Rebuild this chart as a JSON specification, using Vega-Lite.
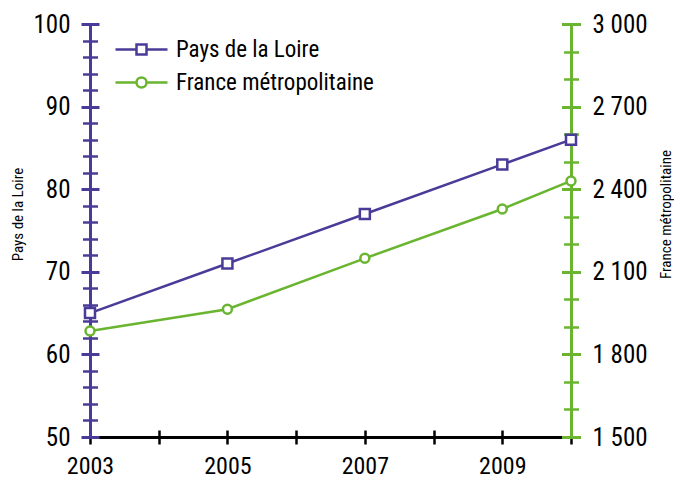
{
  "$schema": "https://vega.github.io/schema/vega-lite/v6.json",
  "width": 481,
  "height": 413,
  "autosize": {"type": "none"},
  "padding": {"left": 90, "top": 24, "right": 103, "bottom": 42},
  "background": "white",
  "config": {
    "font": "Roboto Condensed, DejaVu Sans Condensed, Liberation Sans Narrow, Roboto, sans-serif",
    "view": {"fill": "#d9d5e8", "stroke": null},
    "axis": {"labelFont": "Roboto Condensed, DejaVu Sans Condensed, Liberation Sans Narrow, Roboto, sans-serif", "titleFont": "Roboto Condensed, DejaVu Sans Condensed, Liberation Sans Narrow, Roboto, sans-serif", "labelColor": "black", "titleColor": "black"},
    "legend": {"labelFont": "Roboto Condensed, DejaVu Sans Condensed, Liberation Sans Narrow, Roboto, sans-serif"}
  },
  "datasets": {
    "values": [
      {"year": 2003, "pays": 65, "france": 1885},
      {"year": 2005, "pays": 71, "france": 1964},
      {"year": 2007, "pays": 77, "france": 2149},
      {"year": 2009, "pays": 83, "france": 2328},
      {"year": 2010, "pays": 86, "france": 2430}
    ],
    "series": [
      {"series": "Pays de la Loire"},
      {"series": "France métropolitaine"}
    ]
  },
  "layer": [
    {
      "data": {"name": "values"},
      "mark": {"type": "line", "color": "#4b3b98", "strokeWidth": 2.5},
      "encoding": {
        "x": {"field": "year", "type": "quantitative", "scale": {"domain": [2003, 2010], "nice": false, "zero": false},
          "axis": {"orient": "bottom", "values": [2003, 2005, 2007, 2009], "format": "d", "ticks": false, "domainColor": "black", "domainWidth": 3, "grid": false, "labelFontSize": 24, "labelPadding": 17, "labelFlush": false, "labelOverlap": false, "title": null}},
        "y": {"field": "pays", "type": "quantitative", "scale": {"domain": [50, 100], "nice": false, "zero": false},
          "axis": {"orient": "left", "values": [50, 60, 70, 80, 90, 100], "ticks": false, "domainColor": "#4b3b98", "domainWidth": 3, "grid": true, "gridColor": "white", "gridWidth": 2.5, "gridOpacity": 1, "labelFontSize": 25, "labelPadding": 20, "labelOverlap": false, "title": "Pays de la Loire", "titleFontSize": 15, "titleFontWeight": "normal", "titleAngle": 270, "titleX": -73, "titleY": 190, "titleAlign": "center", "titleBaseline": "middle"}}
      }
    },
    {
      "data": {"name": "values"},
      "mark": {"type": "point", "shape": "square", "filled": true, "fill": "white", "stroke": "#4b3b98", "strokeWidth": 2.5, "size": 100, "opacity": 1},
      "encoding": {
        "x": {"field": "year", "type": "quantitative", "scale": {"domain": [2003, 2010], "nice": false, "zero": false},
          "axis": {"orient": "bottom", "values": [2003, 2004, 2005, 2006, 2007, 2008, 2009, 2010], "tickSize": 14, "offset": -7, "tickColor": "black", "tickWidth": 2.5, "domain": false, "labels": false, "grid": false, "title": null}},
        "y": {"field": "pays", "type": "quantitative", "scale": {"domain": [50, 100], "nice": false, "zero": false},
          "axis": {"orient": "left", "values": [50, 60, 70, 80, 90, 100], "tickSize": 18, "offset": -9, "tickColor": "#4b3b98", "tickWidth": 3, "domain": false, "labels": false, "grid": false, "title": null}}
      }
    },
    {
      "data": {"name": "values"},
      "mark": {"type": "point", "opacity": 0},
      "encoding": {
        "x": {"field": "year", "type": "quantitative", "scale": {"domain": [2003, 2010], "nice": false, "zero": false}, "axis": null},
        "y": {"field": "pays", "type": "quantitative", "scale": {"domain": [50, 100], "nice": false, "zero": false},
          "axis": {"orient": "left", "values": [52, 54, 56, 58, 62, 64, 66, 68, 72, 74, 76, 78, 82, 84, 86, 88, 92, 94, 96, 98], "tickSize": 15, "offset": -7.5, "tickColor": "#4b3b98", "tickWidth": 2.5, "domain": false, "labels": false, "grid": false, "title": null}}
      }
    },
    {
      "data": {"name": "values"},
      "mark": {"type": "line", "color": "#6ab52f", "strokeWidth": 2.5},
      "encoding": {
        "x": {"field": "year", "type": "quantitative", "scale": {"domain": [2003, 2010], "nice": false, "zero": false}, "axis": null},
        "y": {"field": "france", "type": "quantitative", "scale": {"domain": [1500, 3000], "nice": false, "zero": false},
          "axis": {"orient": "right", "values": [1500, 1800, 2100, 2400, 2700, 3000], "labelExpr": "replace(format(datum.value, ','), ',', ' ')", "ticks": false, "domainColor": "#6ab52f", "domainWidth": 3, "grid": false, "labelFontSize": 25, "labelPadding": 21, "labelOverlap": false, "title": "France métropolitaine", "titleFontSize": 15, "titleFontWeight": "normal", "titleAngle": 270, "titleX": 94, "titleY": 190, "titleAlign": "center", "titleBaseline": "middle"}}
      }
    },
    {
      "data": {"name": "values"},
      "mark": {"type": "point", "shape": "circle", "filled": true, "fill": "white", "stroke": "#6ab52f", "strokeWidth": 2.5, "size": 80, "opacity": 1},
      "encoding": {
        "x": {"field": "year", "type": "quantitative", "scale": {"domain": [2003, 2010], "nice": false, "zero": false}, "axis": null},
        "y": {"field": "france", "type": "quantitative", "scale": {"domain": [1500, 3000], "nice": false, "zero": false},
          "axis": {"orient": "right", "values": [1500, 1800, 2100, 2400, 2700, 3000], "tickSize": 19, "offset": -9.5, "tickColor": "#6ab52f", "tickWidth": 3, "domain": false, "labels": false, "grid": false, "title": null}}
      }
    },
    {
      "data": {"name": "values"},
      "mark": {"type": "point", "opacity": 0},
      "encoding": {
        "x": {"field": "year", "type": "quantitative", "scale": {"domain": [2003, 2010], "nice": false, "zero": false}, "axis": null},
        "y": {"field": "france", "type": "quantitative", "scale": {"domain": [1500, 3000], "nice": false, "zero": false},
          "axis": {"orient": "right", "values": [1600, 1700, 1900, 2000, 2200, 2300, 2500, 2600, 2800, 2900], "tickSize": 15, "offset": -7.5, "tickColor": "#6ab52f", "tickWidth": 2.5, "domain": false, "labels": false, "grid": false, "title": null}}
      }
    },
    {
      "data": {"name": "series"},
      "mark": {"type": "point", "filled": false, "fill": "white", "strokeWidth": 2.5, "opacity": 0},
      "encoding": {
        "stroke": {"field": "series", "type": "nominal",
          "scale": {"domain": ["Pays de la Loire", "France métropolitaine"], "range": ["#4b3b98", "#6ab52f"]},
          "legend": {"title": null, "orient": "none", "legendX": 40, "legendY": 14, "symbolSize": 400, "symbolStrokeWidth": 2.5, "symbolOpacity": 1, "symbolFillColor": "white", "labelFontSize": 23, "labelOffset": 23, "labelLimit": 400, "rowPadding": 9, "labelColor": "black", "padding": 0}},
        "shape": {"field": "series", "type": "nominal",
          "scale": {"domain": ["Pays de la Loire", "France métropolitaine"], "range": ["M-2.6,0H-0.5M0.5,0H2.6M-0.5,-0.5H0.5V0.5H-0.5Z", "M-2.6,0H-0.5M0.5,0H2.6M-0.5,0A0.5,0.5,0,1,0,0.5,0A0.5,0.5,0,1,0,-0.5,0Z"]}}
      }
    }
  ],
  "resolve": {"scale": {"y": "independent"}, "axis": {"x": "independent", "y": "independent"}}
}
